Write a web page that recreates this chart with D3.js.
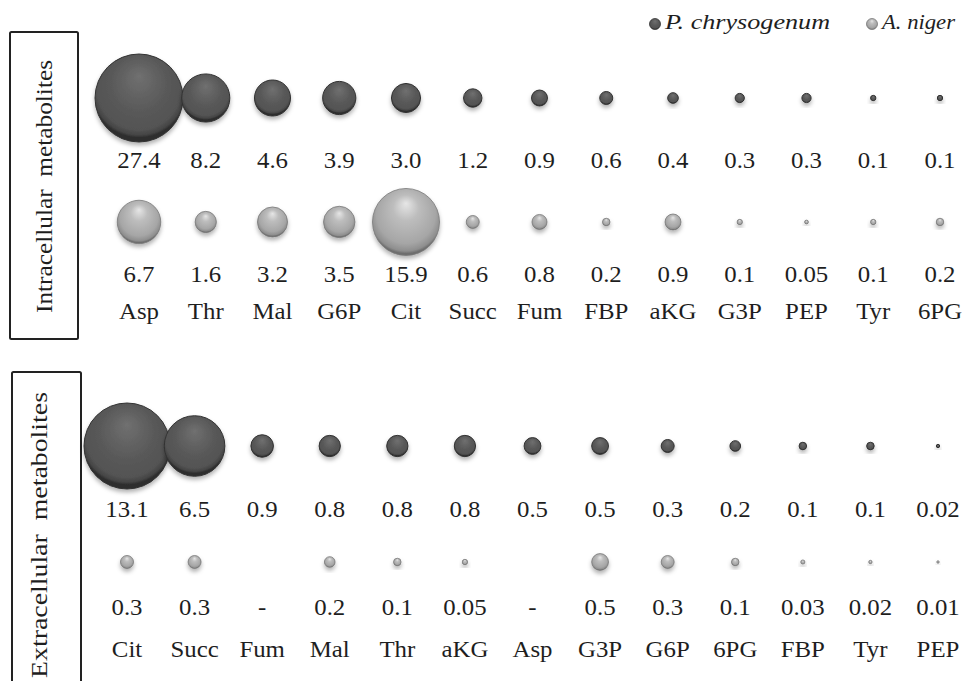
<!DOCTYPE html>
<html><head><meta charset="utf-8">
<script src="https://cdn.jsdelivr.net/npm/d3@7"></script>
<style>
html,body{margin:0;padding:0;background:#fff;}
svg{display:block;}
</style></head>
<body>
<svg id="chart" width="968" height="681" font-family="Liberation Serif, serif"></svg>
<script>
// ---------- data ----------
const intraCats = ["Asp","Thr","Mal","G6P","Cit","Succ","Fum","FBP","aKG","G3P","PEP","Tyr","6PG"];
const intraPchrys = [27.4, 8.2, 4.6, 3.9, 3.0, 1.2, 0.9, 0.6, 0.4, 0.3, 0.3, 0.1, 0.1];
const intraAniger = [6.7, 1.6, 3.2, 3.5, 15.9, 0.6, 0.8, 0.2, 0.9, 0.1, 0.05, 0.1, 0.2];

const extraCats = ["Cit","Succ","Fum","Mal","Thr","aKG","Asp","G3P","G6P","6PG","FBP","Tyr","PEP"];
const extraPchrys = [13.1, 6.5, 0.9, 0.8, 0.8, 0.8, 0.5, 0.5, 0.3, 0.2, 0.1, 0.1, 0.02];
const extraAniger = [0.3, 0.3, null, 0.2, 0.1, 0.05, null, 0.5, 0.3, 0.1, 0.03, 0.02, 0.01];

const seriesNames = ["P. chrysogenum", "A. niger"];
const panelTitles = ["Intracellular  metabolites", "Extracellular  metabolites"];

// ---------- setup ----------
const FONT = "Liberation Serif";
const svg = d3.select("#chart");
const defs = svg.append("defs");

const dark = defs.append("radialGradient").attr("id","gDark")
  .attr("cx","50%").attr("cy","40%").attr("r","55%").attr("fx","50%").attr("fy","25%");
[["0%","#707070"],["55%","#5a5a5a"],["88%","#535353"],["96%","#444"],["100%","#2e2e2e"]]
  .forEach(s=>dark.append("stop").attr("offset",s[0]).attr("stop-color",s[1]));

const light = defs.append("radialGradient").attr("id","gLight")
  .attr("cx","50%").attr("cy","42%").attr("r","55%").attr("fx","50%").attr("fy","22%");
[["0%","#e6e6e6"],["35%","#bdbdbd"],["80%","#a6a6a6"],["95%","#8e8e8e"],["100%","#6e6e6e"]]
  .forEach(s=>light.append("stop").attr("offset",s[0]).attr("stop-color",s[1]));

const f = defs.append("filter").attr("id","shadow")
  .attr("x","-50%").attr("y","-50%").attr("width","200%").attr("height","200%");
f.append("feDropShadow").attr("dx",0).attr("dy",3).attr("stdDeviation",2)
  .attr("flood-color","#000").attr("flood-opacity",0.3);

const fmt = v => v == null ? "-" : (v >= 0.1 ? v.toFixed(1) : v.toFixed(2));

const FS = 23, SX = 1.08;
function label(g, x, y, txt) {
  g.append("text")
    .attr("transform", `translate(${x},${y}) scale(${SX},1)`)
    .attr("text-anchor","middle")
    .attr("font-family", FONT)
    .attr("font-size", FS)
    .attr("fill", "#1e1e1e")
    .text(txt);
}

const panels = [
  {cats: intraCats, a: intraPchrys, b: intraAniger, xr: [139, 940], rmax: 44,
   yA: 98, yAl: 168, yB: 222, yBl: 282, yC: 319,
   box: [10, 32, 68, 307], title: panelTitles[0], tx: 52, tlen: 253, ty: 186.5},
  {cats: extraCats, a: extraPchrys, b: extraAniger, xr: [127, 938], rmax: 43,
   yA: 446, yAl: 517, yB: 562, yBl: 615, yC: 657,
   box: [12, 372, 69, 330], title: panelTitles[1], tx: 47, tlen: 286, ty: 535}
];

panels.forEach(p => {
  const g = svg.append("g");
  const x = d3.scalePoint().domain(p.cats).range(p.xr);
  const allMax = d3.max(p.a.concat(p.b.filter(v => v != null)));
  const r = d3.scaleSqrt().domain([0, allMax]).range([0, p.rmax]);

  // frame + title
  g.append("rect").attr("x", p.box[0]).attr("y", p.box[1])
    .attr("width", p.box[2]).attr("height", p.box[3])
    .attr("fill","none").attr("stroke","#222").attr("stroke-width",2).attr("rx",1.5);
  g.append("text")
    .attr("transform", `translate(${p.tx},${p.ty}) rotate(-90)`)
    .attr("text-anchor","middle")
    .attr("textLength", p.tlen).attr("lengthAdjust","spacingAndGlyphs")
    .attr("font-family", FONT).attr("font-size", 23).attr("fill","#1e1e1e")
    .style("white-space","pre")
    .text(p.title);

  // series A bubbles (dark)
  g.selectAll(".bA").data(p.a).join("circle")
    .attr("cx", (d,i) => x(p.cats[i])).attr("cy", p.yA)
    .attr("r", d => r(d))
    .attr("fill","url(#gDark)").attr("stroke","#333").attr("stroke-width",1)
    .attr("filter","url(#shadow)");
  // series B bubbles (light)
  g.selectAll(".bB").data(p.b).join("circle")
    .attr("cx", (d,i) => x(p.cats[i])).attr("cy", p.yB)
    .attr("r", d => d == null ? 0 : r(d))
    .attr("fill","url(#gLight)").attr("stroke","#7a7a7a").attr("stroke-width",0.8)
    .attr("filter","url(#shadow)");

  p.cats.forEach((c,i) => {
    label(g, x(c), p.yAl, fmt(p.a[i]));
    label(g, x(c), p.yBl, fmt(p.b[i]));
    label(g, x(c), p.yC, c);
  });
});

// legend
const lg = svg.append("g");
const legendItems = [
  {name: seriesNames[0], fill: "url(#gDark)", stroke: "#333", cx: 655, tx: 665, len: 165},
  {name: seriesNames[1], fill: "url(#gLight)", stroke: "#7a7a7a", cx: 872, tx: 882, len: 73}
];
legendItems.forEach(it => {
  lg.append("circle").attr("cx", it.cx).attr("cy", 24).attr("r", 5.5)
    .attr("fill", it.fill).attr("stroke", it.stroke).attr("stroke-width",0.8);
  lg.append("text").attr("x", it.tx).attr("y", 29)
    .attr("textLength", it.len).attr("lengthAdjust","spacingAndGlyphs")
    .attr("font-family", FONT).attr("font-size", 20).attr("font-style","italic")
    .attr("fill","#1e1e1e")
    .text(it.name);
});
</script>
</body></html>
